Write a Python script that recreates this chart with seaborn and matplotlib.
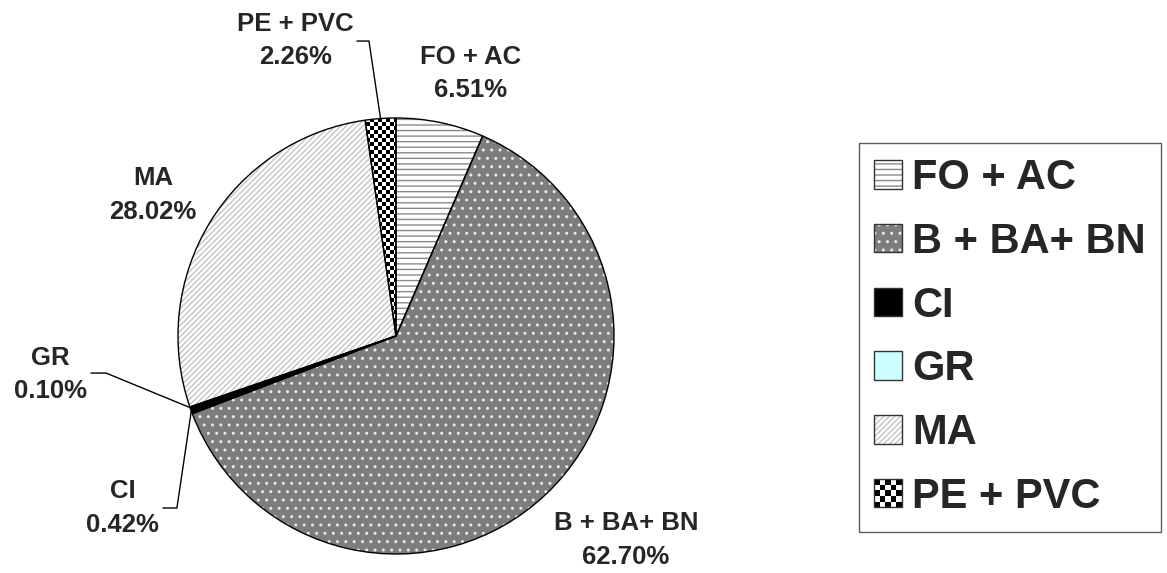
import numpy as np
import matplotlib
matplotlib.use("Agg")
import matplotlib.pyplot as plt
from matplotlib.patches import Patch, Rectangle
from matplotlib.legend_handler import HandlerTuple, HandlerBase
import seaborn as sns

# Composition by category (percent)
categories = ["FO + AC", "B + BA+ BN", "CI", "GR", "MA", "PE + PVC"]
shares = [6.51, 62.70, 0.42, 0.10, 28.02, 2.26]

# Fill styles per category ("checker" = black/white checkerboard)
face_colors = ["#ffffff", "#7d7d7d", "#000000", "#ccffff", "#ffffff", "#ffffff"]
hatch_colors = ["#8a8a8a", "#e8e8e8", "#000000", "#ccffff", "#c4c4c4", "#000000"]
hatches = ["---", "..", "", "", "//////", "checker"]

sns.set_style("white")
plt.rcParams["font.family"] = ["Liberation Sans", "DejaVu Sans"]
plt.rcParams["hatch.linewidth"] = 1.0

W, H = 1167, 573
fig = plt.figure(figsize=(W / 100, H / 100), dpi=100)
cx, cy, R = 396, 336, 218
ax = fig.add_axes([(cx - R) / W, (H - cy - R) / H, 2 * R / W, 2 * R / H])

# Hatched fill layer (hatch colour follows the edge colour)
fill_wedges, _ = ax.pie(shares, startangle=90, counterclock=False, radius=1,
                        colors=face_colors, wedgeprops=dict(linewidth=0))
for w, hc, h in zip(fill_wedges, hatch_colors, hatches):
    w.set_edgecolor(hc)
    w.set_linewidth(0)
    if h == "checker":
        # checkerboard texture clipped to the wedge
        n = 2 * R // 4
        board = (np.add.outer(np.arange(n), np.arange(n)) % 2).astype(float)
        im = ax.imshow(board, extent=(-1, 1, -1, 1), cmap="gray", vmin=0, vmax=1,
                       interpolation="nearest", zorder=w.get_zorder() + 0.1)
        im.set_clip_path(w)
    else:
        w.set_hatch(h)

# Outline layer
outline, _ = ax.pie(shares, startangle=90, counterclock=False, radius=1,
                    wedgeprops=dict(fill=False, edgecolor="black", linewidth=1.0, zorder=3))

ax.set_xlim(-1, 1)
ax.set_ylim(-1, 1)
ax.set_aspect("equal")
ax.axis("off")

# Label placement (data units of the pie axes)
label_pos = {
    "FO + AC": (0.34, 1.204),
    "B + BA+ BN": (1.055, -0.936),
    "CI": (-1.255, -0.789),
    "GR": (-1.585, -0.177),
    "MA": (-1.115, 0.647),
    "PE + PVC": (-0.46, 1.355),
}
# Leader lines: horizontal stub (x start, x end, y) then to the wedge rim
leaders = {
    "PE + PVC": (-0.179, -0.124, 1.353),
    "GR": (-1.399, -1.330, -0.170),
    "CI": (-1.069, -1.005, -0.789),
}

for w, name, val in zip(outline, categories, shares):
    x, y = label_pos[name]
    ax.text(x, y, f"{name}\n{val:.2f}%", ha="center", va="center",
            fontsize=18.5, fontweight="bold", linespacing=1.5,
            clip_on=False)
    if name in leaders:
        mid = np.deg2rad((w.theta1 + w.theta2) / 2)
        ex, ey = np.cos(mid), np.sin(mid)
        x0, x1, yl = leaders[name]
        ax.plot([x0, x1, ex], [yl, yl, ey], color="black", linewidth=1.0,
                clip_on=False, solid_joinstyle="miter")


class CheckerHandler(HandlerBase):
    """Legend key drawn as a small black/white checkerboard."""

    def create_artists(self, legend, orig_handle, xdescent, ydescent,
                       width, height, fontsize, trans):
        n = 5
        x0, y0 = -xdescent, -ydescent
        cw, ch = width / n, height / n
        arts = [Rectangle((x0, y0), width, height, facecolor="white",
                          edgecolor="none", transform=trans)]
        for i in range(n):
            for j in range(n):
                if (i + j) % 2 == 0:
                    arts.append(Rectangle((x0 + i * cw, y0 + j * ch), cw, ch,
                                          facecolor="black", edgecolor="none",
                                          transform=trans))
        arts.append(Rectangle((x0, y0), width, height, facecolor="none",
                              edgecolor="#333333", linewidth=1.0, transform=trans))
        return arts


# Legend keys: hatch layer plus a dark outline
handles = []
handler_map = {tuple: HandlerTuple(ndivide=1, pad=0)}
for fc, hc, h in zip(face_colors, hatch_colors, hatches):
    if h == "checker":
        key = Patch(facecolor="white")
        handler_map[key] = CheckerHandler()
        handles.append(key)
    else:
        fill = Patch(facecolor=fc, edgecolor=hc, hatch=h, linewidth=0)
        edge = Patch(facecolor="none", edgecolor="#333333", linewidth=1.0)
        handles.append((fill, edge))

leg = fig.legend(handles, categories, handler_map=handler_map,
                 loc="upper left", bbox_to_anchor=(859 / W, 1 - 143 / H),
                 borderaxespad=0, frameon=True, fancybox=False, shadow=False,
                 prop=dict(family="Liberation Sans", weight="bold", size=30),
                 handlelength=0.67, handleheight=0.67, handletextpad=0.25,
                 labelspacing=0.57, borderpad=0.36)
leg.get_frame().set_edgecolor("#333333")
leg.get_frame().set_linewidth(1.0)

fig.savefig("out.png", dpi=100)
